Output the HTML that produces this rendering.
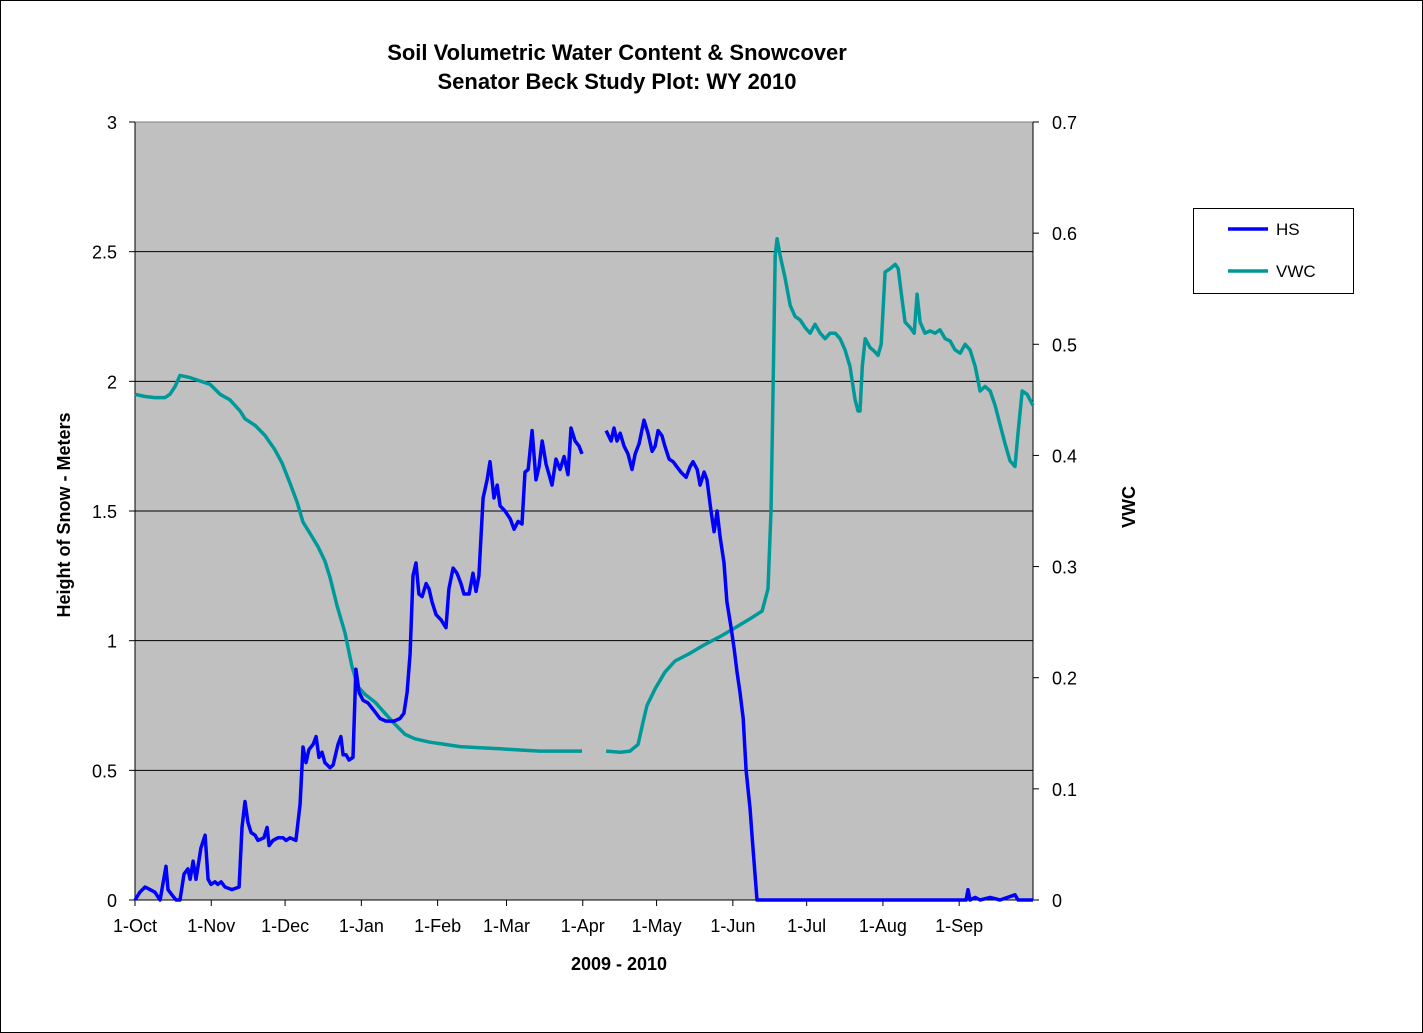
<!DOCTYPE html>
<html><head><meta charset="utf-8"><style>
html,body{margin:0;padding:0;background:#fff;}
svg{display:block;font-family:"Liberation Sans",Arial,sans-serif;}
</style></head><body>
<svg id="chart" width="1423" height="1033" viewBox="0 0 1423 1033">
<rect x="0.5" y="0.5" width="1422" height="1032" fill="#fff" stroke="#000"/>
<text x="617" y="60" text-anchor="middle" font-size="22" font-weight="bold">Soil Volumetric Water Content &amp; Snowcover</text>
<text x="617" y="89" text-anchor="middle" font-size="22" font-weight="bold">Senator Beck Study Plot: WY 2010</text>
<rect x="135" y="122" width="898" height="778" fill="#c0c0c0" stroke="#808080"/>
<g id="grid"></g>
<g id="axes"></g>
<g id="series"></g>
<text transform="translate(70,515) rotate(-90)" text-anchor="middle" font-size="18" font-weight="bold">Height of Snow - Meters</text>
<text transform="translate(1135,507) rotate(-90)" text-anchor="middle" font-size="18" font-weight="bold">VWC</text>
<text x="619" y="970" text-anchor="middle" font-size="18" font-weight="bold">2009 - 2010</text>
<g>
<rect x="1193.5" y="208.5" width="160" height="85" fill="#fff" stroke="#000"/>
<line x1="1228" y1="229" x2="1268" y2="229" stroke="#0000ff" stroke-width="3.5"/>
<text x="1276" y="235" font-size="17">HS</text>
<line x1="1228" y1="271" x2="1268" y2="271" stroke="#009999" stroke-width="3.5"/>
<text x="1276" y="277" font-size="17">VWC</text>
</g>
</svg>
<script>
const monthLabels=["1-Oct","1-Nov","1-Dec","1-Jan","1-Feb","1-Mar","1-Apr","1-May","1-Jun","1-Jul","1-Aug","1-Sep"];
const monthDays=[0,31,61,92,123,151,182,212,243,273,304,335];
const leftTicks=[0,0.5,1,1.5,2,2.5,3];
const leftTickLabels=["0","0.5","1","1.5","2","2.5","3"];
const rightTicks=[0,0.1,0.2,0.3,0.4,0.5,0.6,0.7];
const rightTickLabels=["0","0.1","0.2","0.3","0.4","0.5","0.6","0.7"];
const hsDays=[0,2,4.1,6.1,8.1,10.2,12.6,13.4,15,16.7,18.3,19.9,21.5,22.4,23.6,24.8,26.8,28.5,29.7,30.9,32.5,33.7,35,36.6,39.4,42.3,43.5,44.7,45.9,47.2,48.8,50,52.4,53.7,54.5,56.1,58.1,60.2,61.4,63,65.4,67.1,68.3,69.5,70.7,72.4,73.6,74.8,76,77.2,79.3,80.5,82.5,83.7,84.6,85.8,87,88.6,89.8,91.1,92.7,94.7,97.2,99.6,102,105.3,107.7,109.3,110.6,111.8,113,114.2,115.4,116.7,118.3,119.5,120.7,122.4,124.4,126.4,127.6,129.3,130.9,132.5,133.7,135.8,137.4,138.6,139.8,141.5,143.1,144.3,145.9,147.2,148.4,150.4,152.5,154.1,155.7,157.3,158.5,159.8,161.4,163,164.2,165.5,167.1,168.3,169.5,171.1,172.8,174.4,176,177.2,178.9,180.5,181.7,186,191.5,193.5,194.7,195.9,197.2,198.8,200.4,202,203.3,204.9,206.9,208.5,210.2,211.4,212.6,214.2,215.4,217.1,218.7,220.3,221.9,224,225.6,226.8,228.5,229.7,231.3,232.5,234.1,235.4,236.6,237.8,239.4,240.6,242.3,243.5,244.7,245.9,247.2,248.4,250,250.8,251.6,252.8,337.8,338.6,339.4,341.5,343.5,347.6,351.6,357.7,358.9,365];
const hsValues=[0,0.03,0.05,0.04,0.03,0,0.13,0.04,0.02,0,0,0.1,0.12,0.08,0.15,0.08,0.2,0.25,0.08,0.06,0.07,0.06,0.07,0.05,0.04,0.05,0.28,0.38,0.3,0.26,0.25,0.23,0.24,0.28,0.21,0.23,0.24,0.24,0.23,0.24,0.23,0.37,0.59,0.53,0.58,0.6,0.63,0.55,0.57,0.53,0.51,0.52,0.6,0.63,0.56,0.56,0.54,0.55,0.89,0.8,0.77,0.76,0.73,0.7,0.69,0.69,0.7,0.72,0.8,0.95,1.25,1.3,1.18,1.17,1.22,1.2,1.15,1.1,1.08,1.05,1.2,1.28,1.26,1.22,1.18,1.18,1.26,1.19,1.25,1.55,1.62,1.69,1.55,1.6,1.52,1.5,1.47,1.43,1.46,1.45,1.65,1.66,1.81,1.62,1.67,1.77,1.68,1.64,1.6,1.7,1.66,1.71,1.64,1.82,1.77,1.75,1.72,null,1.81,1.77,1.82,1.77,1.8,1.75,1.72,1.66,1.72,1.76,1.85,1.8,1.73,1.75,1.81,1.79,1.75,1.7,1.69,1.67,1.65,1.63,1.67,1.69,1.66,1.6,1.65,1.62,1.5,1.42,1.5,1.4,1.3,1.15,1.05,0.97,0.88,0.8,0.7,0.5,0.35,0.25,0.15,0,0,0.04,0,0.01,0,0.01,0,0.02,0,0];
const vwcDays=[0,4.1,8.1,12.2,14.2,16.3,18.3,22.4,26.4,30.5,34.6,38.6,42.7,44.7,48.8,52.8,56.9,59.8,63,65.9,68.3,71.1,74.4,77.2,79.3,82.1,85.4,88.2,90.6,93.5,97.6,101.6,105.7,109.8,113.8,119.9,126,132.1,140.2,148.4,156.5,164.6,172.8,181.7,186,191.5,197.2,201.2,204.5,206.5,208.1,211.4,215.4,219.5,225.6,231.7,237.8,243.9,250,254.9,257.3,258.5,259.3,260.2,261,262.2,264.2,266.3,268.3,270.3,272.4,274.4,276.4,278.5,280.5,282.5,284.6,286.6,288.6,290.6,292.7,293.9,294.7,295.6,296.8,298.8,300.8,302,303.3,304.9,306.9,309,310.2,311.8,313,315.1,316.7,317.9,319.1,321.1,323.2,325.2,327.2,329.3,331.3,333.3,335.4,337.4,339.4,341.5,343.5,345.5,347.6,349.6,351.6,353.7,355.7,357.7,358.9,360.6,362.6,365];
const vwcValues=[0.455,0.453,0.452,0.452,0.455,0.462,0.472,0.47,0.467,0.464,0.455,0.45,0.44,0.433,0.427,0.418,0.405,0.393,0.375,0.358,0.34,0.33,0.318,0.305,0.29,0.265,0.24,0.21,0.192,0.185,0.178,0.168,0.158,0.149,0.145,0.142,0.14,0.138,0.137,0.136,0.135,0.134,0.134,0.134,null,0.134,0.133,0.134,0.14,0.16,0.175,0.19,0.205,0.215,0.222,0.23,0.237,0.245,0.253,0.26,0.28,0.35,0.45,0.58,0.595,0.58,0.56,0.535,0.525,0.522,0.515,0.51,0.518,0.51,0.505,0.51,0.51,0.505,0.495,0.48,0.45,0.44,0.44,0.48,0.505,0.497,0.493,0.49,0.5,0.565,0.568,0.572,0.568,0.54,0.52,0.515,0.51,0.545,0.52,0.51,0.512,0.51,0.513,0.505,0.503,0.495,0.492,0.5,0.495,0.48,0.458,0.462,0.458,0.445,0.428,0.41,0.395,0.39,0.42,0.458,0.455,0.445];

const NS="http://www.w3.org/2000/svg";
const X0=135,X1=1033,Y0=900,Y1=122;
const xS=d=>X0+d*(X1-X0)/365;
const yL=v=>Y0-v*(Y0-Y1)/3;
const yR=v=>Y0-v*(Y0-Y1)/0.7;
function mk(tag,attrs,parent){const e=document.createElementNS(NS,tag);for(const k in attrs)e.setAttribute(k,attrs[k]);parent.appendChild(e);return e;}
const grid=document.getElementById('grid'),axes=document.getElementById('axes'),series=document.getElementById('series');
leftTicks.forEach((v,i)=>{
  if(v>0&&v<3){const g=mk('line',{x1:X0,x2:X1,y1:yL(v),y2:yL(v),stroke:'#000','stroke-width':1},grid);
  
  }
  const t=mk('line',{x1:X0-6,x2:X0,y1:yL(v),y2:yL(v),stroke:'#000'},axes);
  
  
  const l=mk('text',{x:117,y:yL(v)+7,'text-anchor':'end','font-size':18},axes);
  l.textContent=leftTickLabels[i];
  
  
});
rightTicks.forEach((v,i)=>{
  const t=mk('line',{x1:X1,x2:X1+6,y1:yR(v),y2:yR(v),stroke:'#000'},axes);
  
  
  const l=mk('text',{x:1052,y:yR(v)+7,'font-size':18},axes);
  l.textContent=rightTickLabels[i];
  
  
});
monthDays.forEach((d,i)=>{
  const t=mk('line',{x1:xS(d),x2:xS(d),y1:Y0,y2:Y0+6,stroke:'#000'},axes);
  
  
  const l=mk('text',{x:xS(d),y:932,'text-anchor':'middle','font-size':18},axes);
  l.textContent=monthLabels[i];
  
  
});
mk('line',{x1:X0,x2:X0,y1:Y1,y2:Y0,stroke:'#000'},axes);
mk('line',{x1:X1,x2:X1,y1:Y1,y2:Y0,stroke:'#000'},axes);
mk('line',{x1:X0,x2:X1,y1:Y0,y2:Y0,stroke:'#000'},axes);
function pathFor(days,vals,ys){let d='',pen=false;for(let i=0;i<days.length;i++){if(vals[i]===null){pen=false;continue;}d+=(pen?'L':'M')+xS(days[i]).toFixed(1)+' '+ys(vals[i]).toFixed(1);pen=true;}return d;}
const vp=mk('path',{d:pathFor(vwcDays,vwcValues,yR),fill:'none',stroke:'#009999','stroke-width':3.5,'stroke-linejoin':'round'},series);


const hp=mk('path',{d:pathFor(hsDays,hsValues,yL),fill:'none',stroke:'#0000ff','stroke-width':3.5,'stroke-linejoin':'round'},series);


</script>
</body></html>
